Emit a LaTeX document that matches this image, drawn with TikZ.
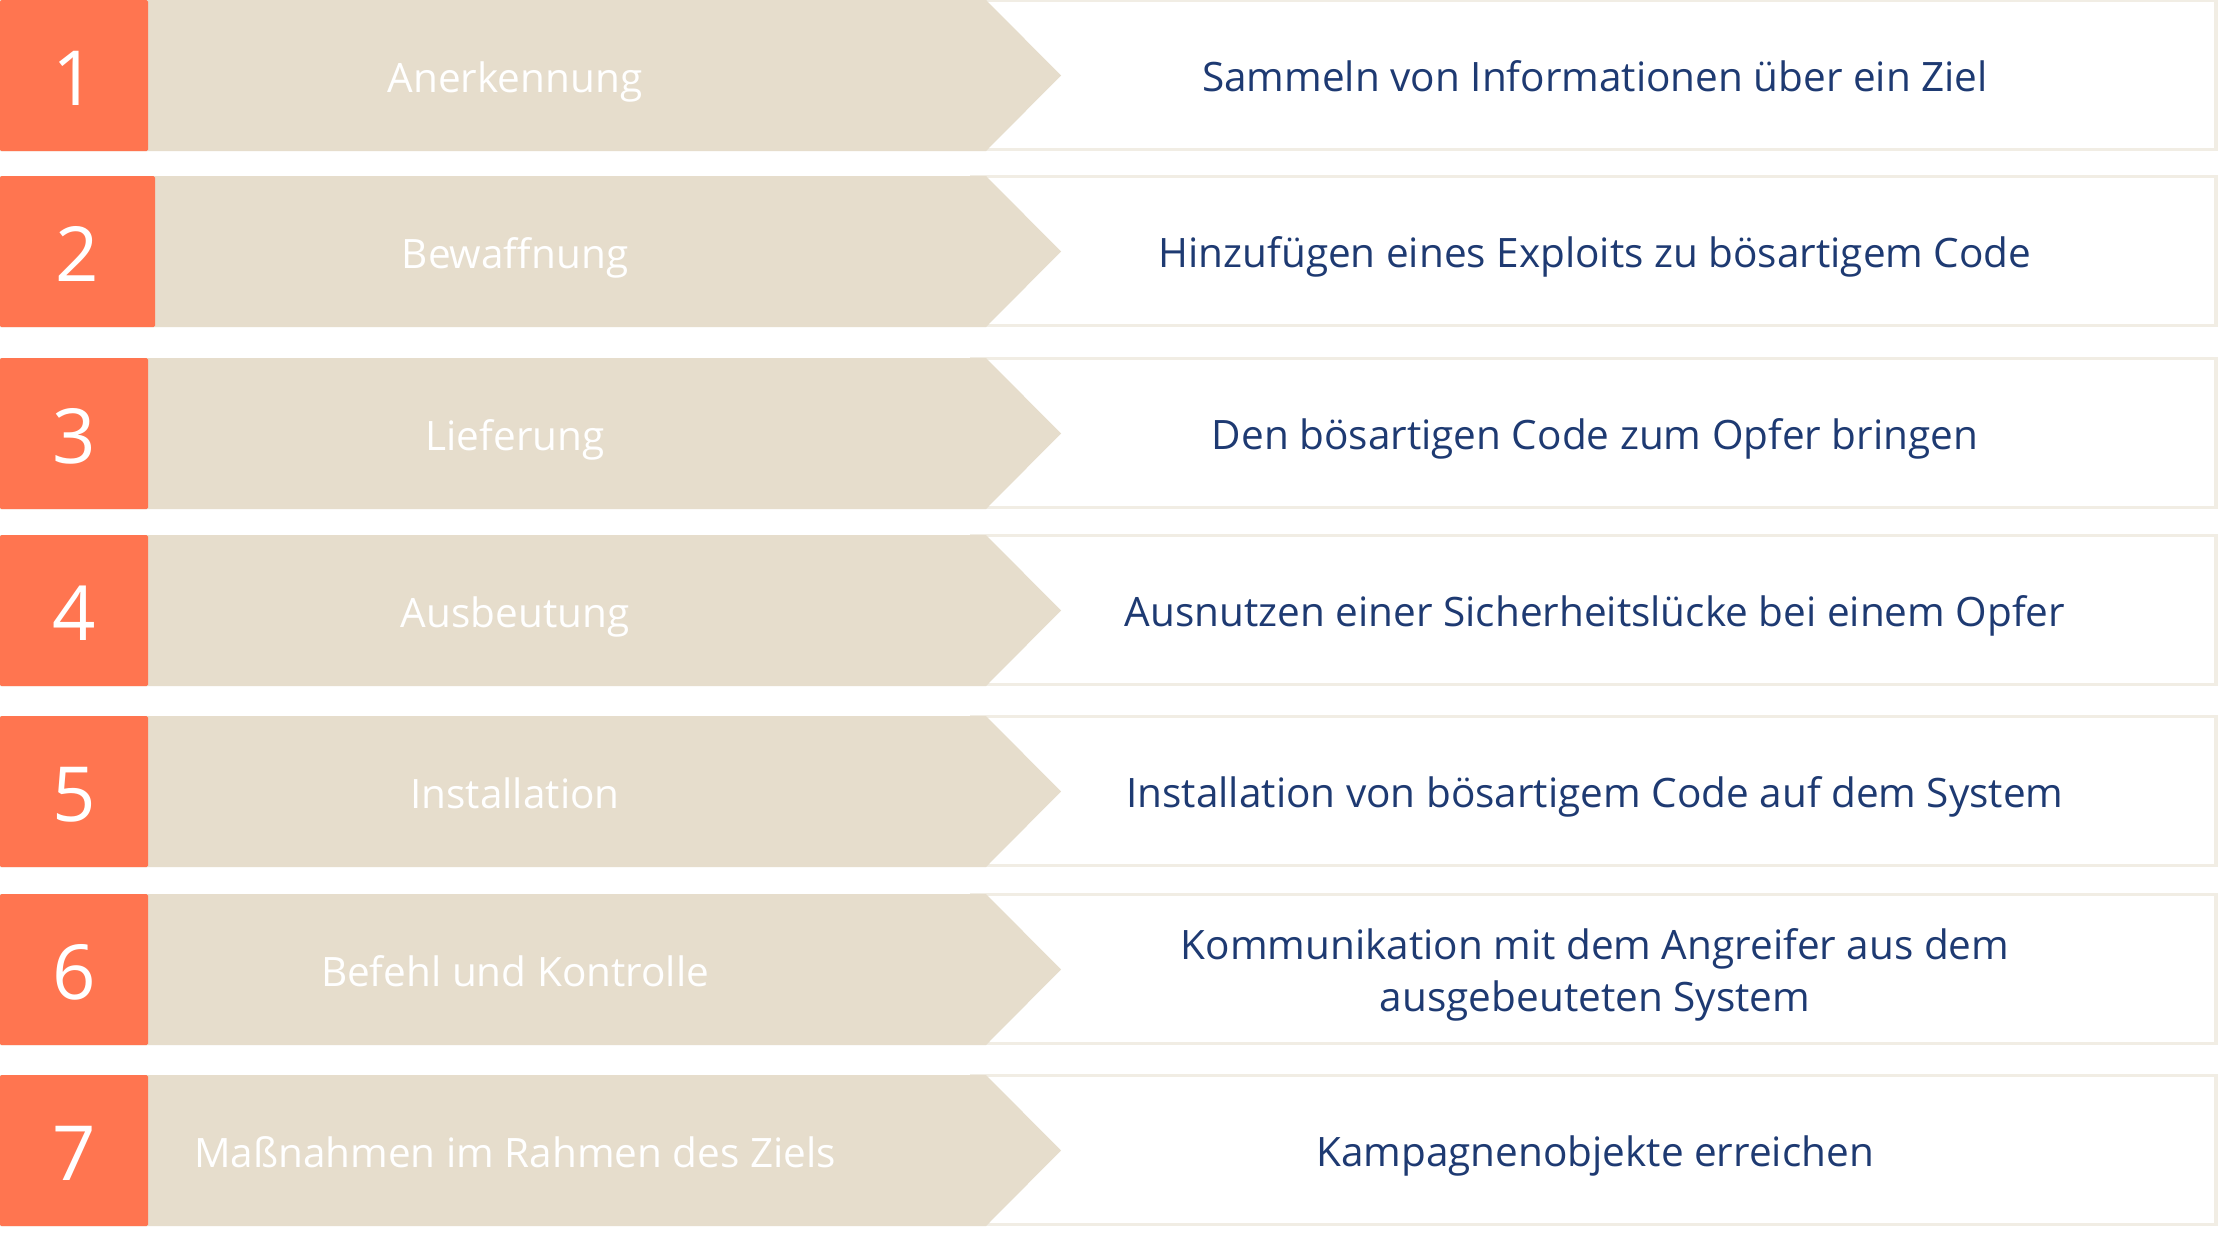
\documentclass[tikz,border=0pt]{standalone}
\usepackage{fontspec}
\setmainfont{Open Sans}
\definecolor{numorange}{HTML}{FF7550}
\definecolor{stepbeige}{HTML}{E6DDCC}
\definecolor{boxline}{HTML}{F1EDE4}
\definecolor{descnavy}{HTML}{1E3A72}
\tikzset{
  numtext/.style={text=white, anchor=base, inner sep=0pt, font=\fontsize{76}{80}\selectfont},
  labtext/.style={text=white, anchor=base, inner sep=0pt, font=\fontsize{40.5}{52}\selectfont},
  desctext/.style={text=descnavy, anchor=base, inner sep=0pt, align=center, font=\fontsize{40.5}{52}\selectfont},
  descbox/.style={draw=boxline, line width=3.5pt, fill=white},
}
\begin{document}
\begin{tikzpicture}[x=1pt,y=-1pt]
\useasboundingbox (0,0) rectangle (2220,1243);
\fill[white] (0,0) rectangle (2220,1243);
\foreach \i/\t/\ow/\db/\lab/\desc in {
  1/0/148/91/Anerkennung/{Sammeln von Informationen über ein Ziel},
  2/176/155/91/Bewaffnung/{Hinzufügen eines Exploits zu bösartigem Code},
  3/358/148/91/Lieferung/{Den bösartigen Code zum Opfer bringen},
  4/535/148/91/Ausbeutung/{Ausnutzen einer Sicherheitslücke bei einem Opfer},
  5/716/148/91/Installation/{Installation von bösartigem Code auf dem System},
  6/894/148/117/{Befehl und Kontrolle}/{Kommunikation mit dem Angreifer aus dem\\ausgebeuteten System},
  7/1075/148/91/{Maßnahmen im Rahmen des Ziels}/{Kampagnenobjekte erreichen}}
{
  \draw[descbox] (972,{\t+0.5}) rectangle (2216,{\t+149.5});
  \fill[stepbeige] (0,\t) -- (986,\t) -- (1061,{\t+75.5}) -- (986,{\t+151}) -- (0,{\t+151}) -- cycle;
  \fill[numorange, rounded corners=1.5pt] (0,\t) rectangle (\ow,{\t+151});
  \node[numtext] (num\i) at ({\ow/2},{\t+105}) {\i};
  \node[labtext] (lab\i) at (515,{\t+92}) {\lab};
  \node[desctext] (desc\i) at (1595,{\t+\db}) {\desc};
}
\end{tikzpicture}
\end{document}
